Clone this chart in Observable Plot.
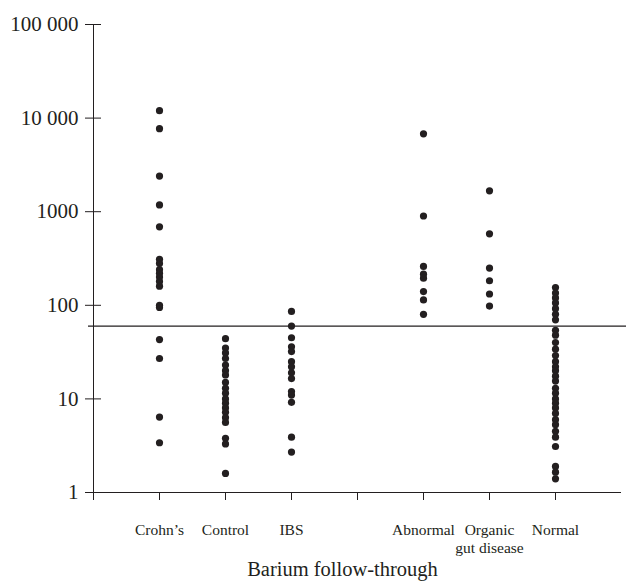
<!DOCTYPE html>
<html>
<head>
<meta charset="utf-8">
<script src="https://cdn.jsdelivr.net/npm/d3@7"></script>
<script src="https://cdn.jsdelivr.net/npm/@observablehq/plot@0.6"></script>
<style>
  html, body { margin: 0; padding: 0; background: #fff; }
  #chart svg { display: block; }
</style>
</head>
<body>
<div id="chart"></div>
<script>
// Group labels (slot 4 is an empty gap between the two groups)
const categories = ["Crohn’s", "Control", "IBS", "", "Abnormal", "Organic\ngut disease", "Normal"];

// Values (log scale)
const crohns   = [12000, 7700, 2400, 1180, 690, 310, 280, 240, 220, 200, 180, 160, 100, 95, 43, 27, 6.4, 3.4];
const control  = [44, 35, 31, 27, 23, 20, 18, 15, 13, 11.5, 10, 9, 8, 7.2, 6.3, 5.6, 3.8, 3.3, 1.6];
const ibs      = [86, 60, 45, 36, 32, 25, 22, 19, 16.5, 12, 11, 9.2, 3.9, 2.7];
const gap      = [];
const abnormal = [6800, 900, 260, 215, 195, 140, 114, 80];
const organic  = [1670, 580, 250, 183, 132, 98];
const normal   = [155, 135, 120, 106, 92, 80, 70, 54, 48, 40, 34, 29, 25, 22, 20, 17.5, 15.5, 13, 11.5, 10, 9, 8, 7, 6, 5.3, 4.5, 3.9, 3.1, 1.9, 1.65, 1.4];

const yTicks = [1, 10, 100, 1000, 10000, 100000];
const yTickLabels = ["1", "10", "100", "1000", "10 000", "100 000"];
const xTicks = [1, 2, 3, 4, 5, 6, 7];
const threshold = 60;
const xTitle = "Barium follow-through";

const groups = [crohns, control, ibs, gap, abnormal, organic, normal];
const points = groups.flatMap((vals, i) => vals.map(v => ({pos: i + 1, value: v})));
const labelRows = categories.map((name, i) => ({pos: i + 1, name})).filter(d => d.name);

const ink = "#231f20";

const chart = Plot.plot({
  width: 626,
  height: 583,
  marginLeft: 93,
  marginRight: 5,
  marginTop: 24,
  marginBottom: 91,
  x: {domain: [0, 8], axis: null},
  y: {type: "log", domain: [1, 100000], axis: null},
  style: {fontFamily: "'Liberation Serif', 'Times New Roman', serif", fontSize: "20px", color: ink, background: "#fff"},
  marks: [
    // y axis line (extends a tick-length below the x axis)
    Plot.ruleX([0], {stroke: ink, strokeWidth: 1, insetBottom: -8}),
    // x axis line
    Plot.ruleY([1], {stroke: ink, strokeWidth: 1}),
    // y ticks (left half + labels)
    Plot.axisY(yTicks, {
      tickSize: 8, tickPadding: 7, stroke: ink, fill: ink, fontSize: 21, label: null,
      tickFormat: d => yTickLabels[yTicks.indexOf(d)]
    }),
    // y ticks (right half)
    Plot.ruleY(yTicks, {x1: 0, x2: 0, insetRight: -8, stroke: ink}),
    // x ticks
    Plot.axisX(xTicks, {tickSize: 8, stroke: ink, label: null, tickFormat: () => ""}),
    // threshold line
    Plot.ruleY([threshold], {stroke: ink, strokeWidth: 1.2, insetLeft: -5, insetRight: -5}),
    // data points
    Plot.dot(points, {x: "pos", y: "value", r: 3.6, fill: ink, stroke: "none"}),
    // category labels
    Plot.text(labelRows, {
      x: "pos", text: "name", frameAnchor: "bottom", lineAnchor: "top",
      dy: 30, fontSize: 15.5, lineHeight: 1.16, fill: ink
    }),
    // axis title
    Plot.text([xTitle], {frameAnchor: "bottom", lineAnchor: "top", dy: 69, dx: -15, fontSize: 20.5, fill: ink})
  ]
});

document.getElementById("chart").appendChild(chart);
</script>
</body>
</html>
